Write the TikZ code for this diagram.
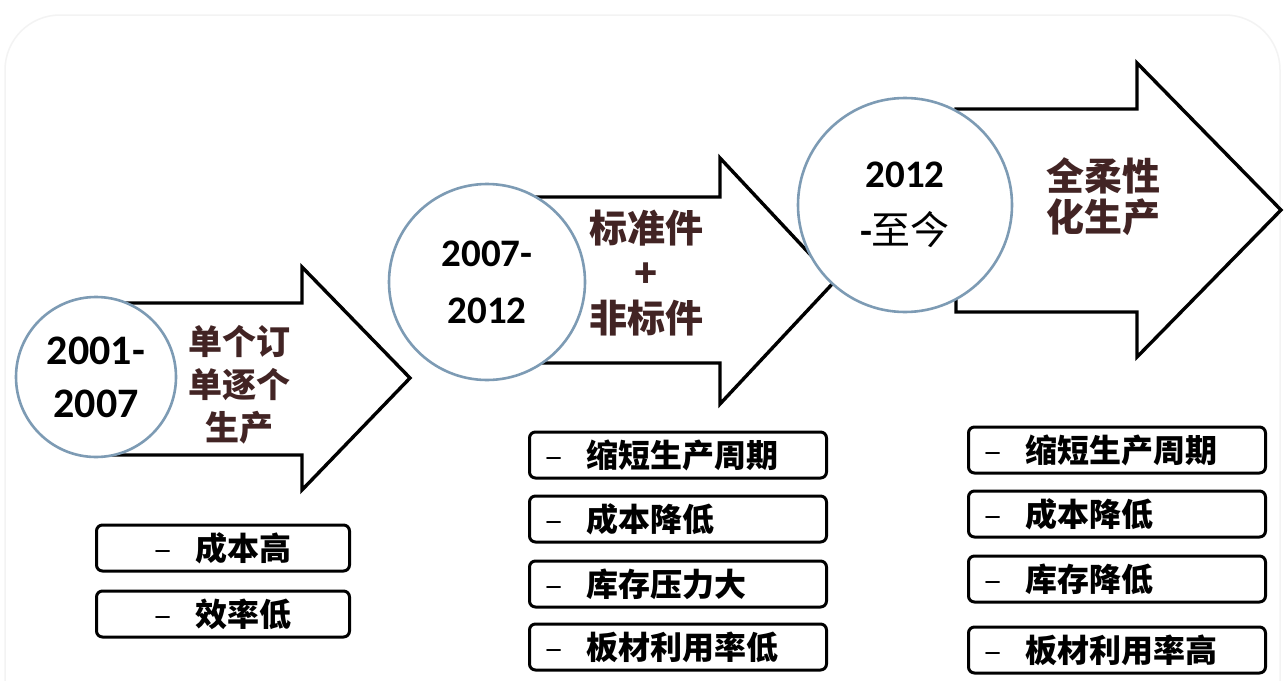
\documentclass[tikz,border=0pt]{standalone}
\usepackage{fontspec}
\usepackage{tikz}
\setmainfont{Carlito}
\newfontfamily\cjk{Noto Sans CJK SC}

\definecolor{ringblue}{RGB}{125,155,180}
\definecolor{labelbrown}{RGB}{66,36,36}
\definecolor{framegray}{RGB}{243,243,243}

\newcommand\itemdash{{\mdseries –}\hspace{24pt}}

\tikzset{
  stage arrow/.style={draw=black, fill=white, line width=3.4pt, line join=miter},
  stage ring/.style={circle, draw=ringblue, fill=white, line width=2.6pt, inner sep=0pt, align=center},
  stage label/.style={text=labelbrown, align=center, inner sep=0pt},
  item box/.style={draw=black, fill=white, line width=3pt, rounded corners=6pt, anchor=west,
    minimum height=46pt, inner xsep=16pt, inner ysep=0pt, font=\cjk\bfseries\fontsize{32}{34}\selectfont},
  item wide/.style={item box, text width=265pt, align=left},
  item narrow/.style={item box, minimum width=253pt, align=center}
}

\begin{document}
\begin{tikzpicture}[x=1pt,y=1pt,yscale=-1]
\useasboundingbox (0,0) rectangle (1285,680);
\fill[white] (0,0) rectangle (1285,680);
%Rounded Rect
\draw[framegray, line width=1.5pt, rounded corners=55pt] (5,15) rectangle (1280,760);

%Shape: Right Arrow
\draw[stage arrow] (100,303) -- (302,303) -- (302,267) -- (410,378) -- (302,490) -- (302,455) -- (100,455) -- cycle;
%Shape: Right Arrow
\draw[stage arrow] (490,197) -- (720,197) -- (720,158) -- (835,281) -- (720,404) -- (720,363) -- (490,363) -- cycle;
%Shape: Right Arrow
\draw[stage arrow] (956,109) -- (1137,109) -- (1137,63) -- (1281,210) -- (1137,357) -- (1137,312) -- (956,312) -- cycle;

%Shape: Circle
\node[stage ring, minimum size=160pt, font=\bfseries\fontsize{42}{53}\selectfont] (ring1) at (96,377) {2001-\\2007};
%Shape: Circle
\node[stage ring, minimum size=196pt, font=\bfseries\fontsize{39}{57}\selectfont] (ring2) at (487,282) {2007-\\2012};
%Shape: Circle
\node[stage ring, minimum size=214pt, font=\bfseries\fontsize{39}{57}\selectfont] (ring3) at (905,205) {2012\\-{\cjk\mdseries 至今}};

% Text Node
\node[stage label, font=\cjk\bfseries\fontsize{34}{43}\selectfont] (label1) at (239,385) {单个订\\单逐个\\生产};
% Text Node
\node[stage label, font=\cjk\bfseries\fontsize{38}{45}\selectfont] (label2) at (646,273) {标准件\\+\\非标件};
% Text Node
\node[stage label, font=\cjk\bfseries\fontsize{38}{41}\selectfont] (label3) at (1103,197) {全柔性\\化生产};

% Text Node
\node[item narrow] (old1) at (95,548) {\itemdash 成本高};
\node[item narrow] (old2) at (95,614) {\itemdash 效率低};
% Text Node
\node[item wide] (mid1) at (528,455) {\itemdash 缩短生产周期};
\node[item wide] (mid2) at (528,519) {\itemdash 成本降低};
\node[item wide] (mid3) at (528,584) {\itemdash 库存压力大};
\node[item wide] (mid4) at (528,647) {\itemdash 板材利用率低};
% Text Node
\node[item wide] (now1) at (967,450) {\itemdash 缩短生产周期};
\node[item wide] (now2) at (967,514) {\itemdash 成本降低};
\node[item wide] (now3) at (967,579) {\itemdash 库存降低};
\node[item wide] (now4) at (967,650) {\itemdash 板材利用率高};

\end{tikzpicture}
\end{document}
